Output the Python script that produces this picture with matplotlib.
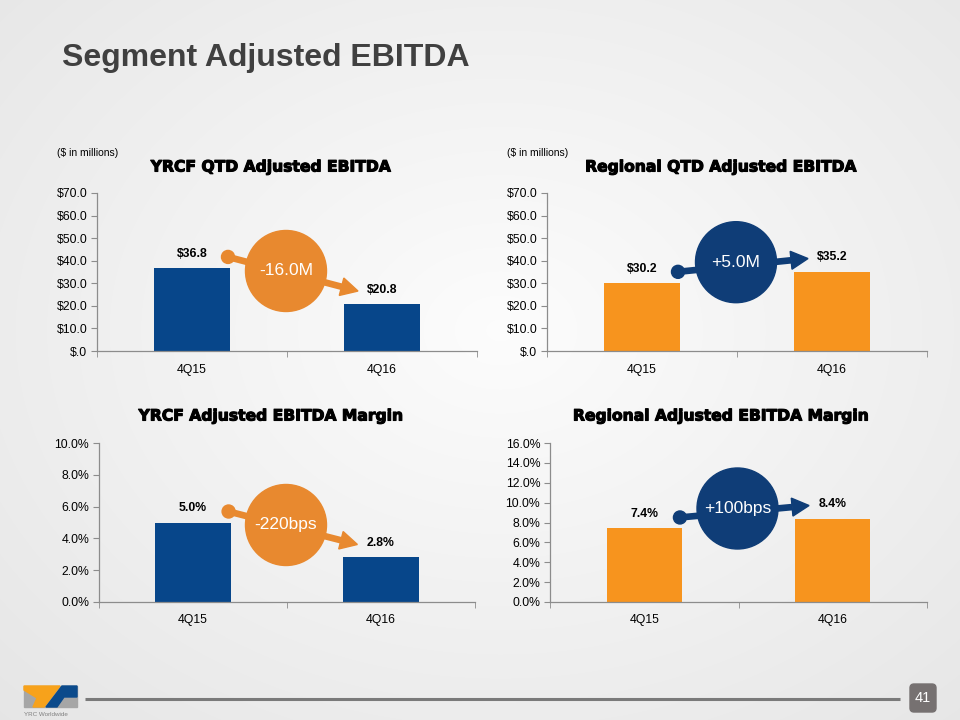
import numpy as np
import matplotlib.pyplot as plt
import matplotlib.patheffects as pe
from matplotlib.patches import Circle, Polygon, FancyBboxPatch, Rectangle
from matplotlib.ticker import FuncFormatter, MultipleLocator

plt.rcParams['font.family'] = ['Liberation Sans', 'DejaVu Sans']

# data
quarters = ['4Q15', '4Q16']
yrcf_ebitda = [36.8, 20.8]
regional_ebitda = [30.2, 35.2]
yrcf_margin = [5.0, 2.8]
regional_margin = [7.4, 8.4]
change_labels = ['-16.0M', '+5.0M', '-220bps', '+100bps']
panel_titles = ['YRCF QTD Adjusted EBITDA', 'Regional QTD Adjusted EBITDA',
                'YRCF Adjusted EBITDA Margin', 'Regional Adjusted EBITDA Margin']

BLUE = '#07468A'
ORANGE = '#F7941E'
BADGE_ORANGE = '#E8892F'
BADGE_BLUE = '#0F3D77'
W, H = 960, 720


def money(v, pos=None):
    s = f"{v:.1f}"
    if s.startswith("0"):
        s = s[1:]
    return "$" + s


def pct(v, pos=None):
    return f"{v:.1f}%"


fig = plt.figure(figsize=(9.6, 7.2), dpi=100)

# soft radial background like the slide
bg = fig.add_axes([0, 0, 1, 1], zorder=-10)
yy, xx = np.mgrid[0:H, 0:W]
r = np.sqrt(((xx - 500) / 560.0) ** 2 + ((yy - 330) / 430.0) ** 2)
shade = np.clip(0.99 - 0.07 * r, 0, 1)
bg.imshow(np.dstack([shade] * 3), aspect='auto', extent=[0, W, H, 0])
bg.axis('off')

# overlay in pixel coordinates for decorations
ov = fig.add_axes([0, 0, 1, 1], zorder=5)
ov.set_xlim(0, W)
ov.set_ylim(H, 0)
ov.axis('off')
ov.patch.set_alpha(0)

fig.text(62 / W, 1 - 58 / H, 'Segment Adjusted EBITDA', fontsize=23, fontweight='bold',
         color='#404040', va='center', ha='left')

panels = [
    (yrcf_ebitda, BLUE, 70, 10, money, [97, 351, 380, 158], BADGE_ORANGE),
    (regional_ebitda, ORANGE, 70, 10, money, [547, 351, 380, 158], BADGE_BLUE),
    (yrcf_margin, BLUE, 10, 2, pct, [99, 602, 376, 159], BADGE_ORANGE),
    (regional_margin, ORANGE, 16, 2, pct, [550, 602, 377, 159], BADGE_BLUE),
]
title_pos = [(270, 167), (720, 167), (270, 416), (720, 416)]


def to_px(ax, x, y):
    d = ax.transData.transform((x, y))
    return np.array([d[0], H - d[1]])


def draw_change(ax, vals, text, color):
    p0 = to_px(ax, 0.2, vals[0])
    p1 = to_px(ax, 0.8, vals[1])
    dot = np.array([p0[0] - 2, p0[1] - 11])
    tip = np.array([p1[0] + 14, p1[1] - 13])
    u = (tip - dot) / np.linalg.norm(tip - dot)
    n = np.array([-u[1], u[0]])
    base = tip - 17 * u
    ov.plot([dot[0], base[0]], [dot[1], base[1]], color=color, lw=4.8,
            solid_capstyle='butt', zorder=2)
    ov.add_patch(Circle(dot, 6.5, color=color, zorder=2))
    ov.add_patch(Polygon([tip, base + 9 * n, base - 9 * n], closed=True,
                         color=color, zorder=2))
    cx = to_px(ax, 0.5, 0)[0] - 1
    cy = (dot[1] + tip[1]) / 2 - 3
    ov.add_patch(Circle((cx, cy), 40.5, color=color, zorder=3))
    ov.text(cx, cy, text, color='white', fontsize=12.5, ha='center',
            va='center', zorder=4)


for i, (vals, col, ymax, step, fmt, (lx, by, wd, ht), badge) in enumerate(panels):
    ax = fig.add_axes([lx / W, 1 - by / H, wd / W, ht / H])
    ax.patch.set_alpha(0)
    x = np.arange(len(quarters))
    ax.bar(x, vals, width=0.4, color=col, zorder=2)
    ax.set_xlim(-0.5, 1.5)
    ax.set_ylim(0, ymax)
    ax.yaxis.set_major_locator(MultipleLocator(step))
    ax.yaxis.set_major_formatter(FuncFormatter(fmt))
    ax.set_xticks(x)
    ax.set_xticklabels(quarters)
    ax.set_xticks([-0.5, 0.5, 1.5], minor=True)
    ax.tick_params(axis='x', which='major', length=0, pad=9, labelsize=8.8)
    ax.tick_params(axis='x', which='minor', length=4, color='#8C8C8C')
    ax.tick_params(axis='y', length=4, color='#8C8C8C', labelsize=8.8, pad=3)
    for s in ['top', 'right']:
        ax.spines[s].set_visible(False)
    for s in ['left', 'bottom']:
        ax.spines[s].set_color('#8C8C8C')
        ax.spines[s].set_linewidth(0.9)
    for xi, v in zip(x, vals):
        ax.annotate(fmt(v), (xi, v), xytext=(0, 6), textcoords='offset points',
                    ha='center', va='bottom', fontsize=8.8, fontweight='bold')
    tx, ty = title_pos[i]
    fig.text(tx / W, 1 - ty / H, panel_titles[i], fontsize=11.2, fontweight='bold',
             family='DejaVu Sans', ha='center', va='center',
             path_effects=[pe.withStroke(linewidth=0.8, foreground='black')])
    if i < 2:
        fig.text((lx - 40) / W, 1 - 153 / H, '($ in millions)', fontsize=7.5,
                 ha='left', va='center')
    draw_change(ax, vals, change_labels[i], badge)

# footer
ov.plot([85, 900], [699, 699], color='#7A7A7A', lw=2.2, solid_capstyle='butt')
ov.add_patch(FancyBboxPatch((910, 684), 26, 28, boxstyle='round,pad=0,rounding_size=4',
                            color='#767171'))
ov.text(923, 698, '41', color='white', fontsize=10.5, ha='center', va='center')

# logo
ov.add_patch(Rectangle((24, 686), 53, 21, color='#A6A6A6'))
ov.add_patch(Polygon([(24, 686), (60, 686), (44, 707), (33, 707), (37, 698), (24, 690)],
                     closed=True, color='#F7A21B'))
ov.add_patch(Polygon([(62, 686), (77, 686), (77, 697), (64, 697), (57, 707), (46, 707)],
                     closed=True, color='#0B4A8B'))
ov.text(24, 714, 'YRC Worldwide', fontsize=4.5, color='#7F7F7F', ha='left', va='center')

fig.savefig('out.png', dpi=100)
